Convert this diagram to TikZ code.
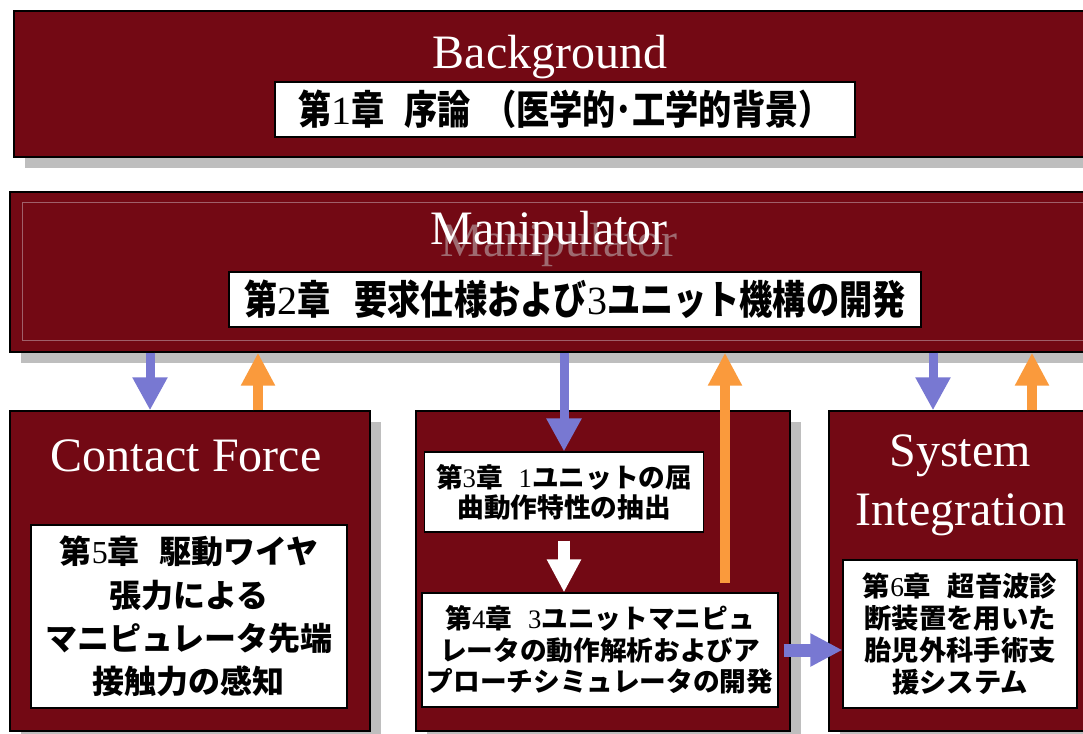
\documentclass[tikz,border=0pt]{standalone}
\usepackage{fontspec}
\usetikzlibrary{arrows.meta,fit,shadows}
\setmainfont{Liberation Serif}
\newfontfamily\tms{Liberation Serif}
\newfontfamily\jpfont{Noto Sans CJK JP}
\newfontfamily\jpnarrow{Noto Sans CJK JP}[FakeStretch=0.83]
\definecolor{boxred}{HTML}{730914}
\definecolor{shade}{HTML}{BEBEBE}
\definecolor{arrblue}{HTML}{7878D2}
\definecolor{arrorange}{HTML}{FA9A3C}
\definecolor{ghost}{HTML}{9E6A70}
\definecolor{innerline}{HTML}{A0606A}
\tikzset{
  redbox/.style={draw=black, line width=1pt, fill=boxred, inner sep=0pt,
    drop shadow={shadow xshift=8pt, shadow yshift=-8pt, fill=shade, opacity=1}},
  wbox/.style={draw=black, line width=0.8pt, fill=white, inner sep=0pt, align=center, text=black},
  toplabel/.style={wbox, font=\jpnarrow\bfseries\fontsize{30pt}{34pt}\selectfont},
  lowlabel/.style={wbox, font=\jpfont\bfseries\fontsize{20pt}{23.5pt}\selectfont},
  titletext/.style={text=white, inner sep=0pt, anchor=base, font=\fontsize{36pt}{40pt}\selectfont},
  bluearr/.style={draw=arrblue, line width=6.75pt, -{Triangle[width=24.75pt,length=24.75pt]}},
  bluearrh/.style={draw=arrblue, line width=9.75pt, -{Triangle[width=23.25pt,length=24pt]}},
  orangearr/.style={draw=arrorange, line width=8pt, -{Triangle[width=24pt,length=24.75pt]}},
  whitearr/.style={draw=white, line width=9pt, -{Triangle[width=24pt,length=24.75pt]}},
}
\newcommand\dg[1]{{\tms\mdseries #1}}
\begin{document}
\begin{tikzpicture}[x=0.75pt,y=-0.75pt]
\useasboundingbox (0,0) rectangle (1083,734);
\fill[white] (0,0) rectangle (1083,734);

% ---- Background ----
\node[redbox, fit={(14,11) (1095,157)}] (bg) {};
\node[titletext] (bgt) at (550,69) {Background};
\node[toplabel, minimum width=435pt, minimum height=41.25pt] (ch1) at (565,109.5)
  {第\dg{1}章\hspace{0.5em}序論\hspace{0.3em}（医学的･工学的背景）};

% ---- Manipulator ----
\node[redbox, fit={(10,192) (1095,352)}] (manip) {};
\draw[innerline, line width=0.75pt] (22,203) rectangle (1100,341);
\node[titletext, text=ghost] (mtg) at (559,257) {Manipulator};
\node[titletext] (mt) at (549,245) {Manipulator};
\node[toplabel, minimum width=519pt, minimum height=41.25pt] (ch2) at (575,299.5)
  {第\dg{2}章\hspace{0.6em}要求仕様および\dg{3}ユニット機構の開発};

% ---- Contact Force ----
\node[redbox, fit={(10,411) (370,731)}] (cf) {};
\node[titletext] (cft) at (186,472) {Contact Force};
\node[wbox, font=\jpfont\bfseries\fontsize{24pt}{32.5pt}\selectfont,
      minimum width=237pt, minimum height=137.25pt] (ch5) at (189,616.5)
  {第\dg{5}章\hspace{0.6em}駆動ワイヤ\\張力による\\マニピュレータ先端\\接触力の感知};

% ---- Middle ----
\node[redbox, fit={(416,411) (790,731)}] (mid) {};
\node[lowlabel, font=\jpfont\bfseries\fontsize{20pt}{22.5pt}\selectfont,
      minimum width=209.25pt, minimum height=60pt] (ch3) at (564,492)
  {第\dg{3}章\hspace{0.6em}\dg{1}ユニットの屈\\曲動作特性の抽出};
\node[lowlabel, minimum width=267pt, minimum height=85.5pt] (ch4) at (600,650)
  {第\dg{4}章\hspace{0.6em}\dg{3}ユニットマニピュ\\レータの動作解析およびア\\プローチシミュレータの開発};

% ---- System Integration ----
\node[redbox, fit={(829,411) (1095,731)}] (si) {};
\node[titletext] (sit1) at (960,467) {System};
\node[titletext] (sit2) at (961,526) {Integration};
\node[lowlabel, font=\jpfont\bfseries\fontsize{20.5pt}{24pt}\selectfont,
      minimum width=175.5pt, minimum height=111pt] (ch6) at (960,634)
  {第\dg{6}章\hspace{0.6em}超音波診\\断装置を用いた\\胎児外科手術支\\援システム};

% ---- Connectors ----
\coordinate (o2) at (725,583);
\draw[bluearr] (150,0 |- manip.south) -- (150,0 |- cf.north);
\draw[orangearr] (258,0 |- cf.north) -- (258,0 |- manip.south);
\draw[bluearr] (manip.south -| ch3.north) -- (ch3.north);
\draw[orangearr] (o2) -- (o2 |- manip.south);
\draw[bluearr] (933,0 |- manip.south) -- (933,0 |- si.north);
\draw[orangearr] (1032,0 |- si.north) -- (1032,0 |- manip.south);
\draw[whitearr] ([yshift=-6pt]ch3.south) -- (ch3.south |- ch4.north);
\draw[bluearrh] ([xshift=3.75pt]ch4.east) -- (ch4.east -| ch6.west);
\end{tikzpicture}
\end{document}
